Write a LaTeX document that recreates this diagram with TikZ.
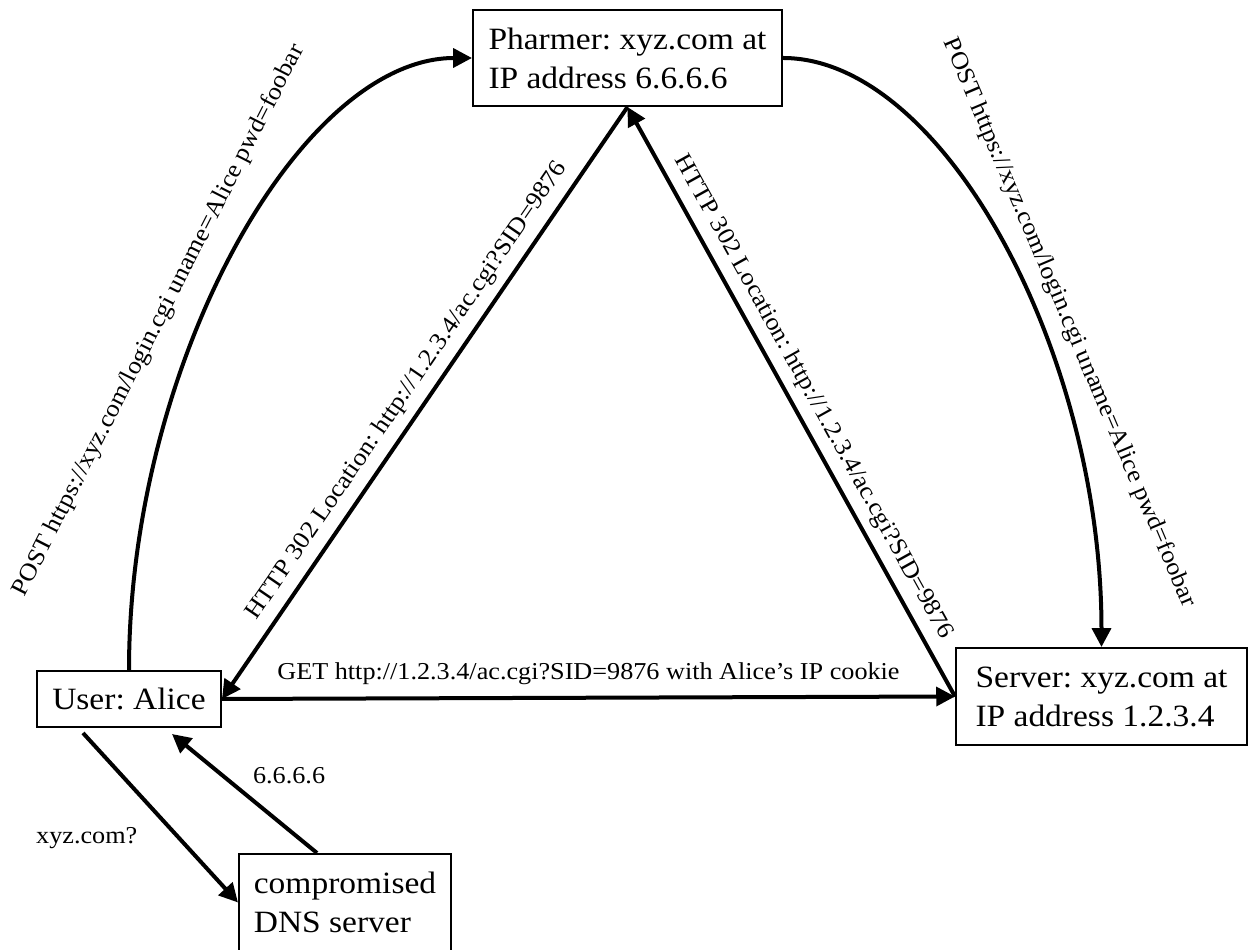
\documentclass[tikz,border=0pt]{standalone}
\usepackage{fontspec}
\setmainfont{Liberation Serif}[FakeStretch=1.08]
\usetikzlibrary{arrows.meta}
\frenchspacing

\begin{document}
\begin{tikzpicture}[x=0.4pt, y=-0.4pt,
	host/.style={draw, line width=0.8pt, align=left, inner sep=0pt,
		font=\fontsize{12.4}{15.6}\selectfont},
	flow/.style={line width=1.6pt, -{Triangle[length=7.5pt, width=7.5pt]}},
	lbl/.style={font=\fontsize{9.7}{11.6}\selectfont}]
	\useasboundingbox (0,0) rectangle (1249,950);
	\node[host, minimum width=123.6pt, minimum height=38.4pt] (pharmer) at (627.5,58) {Pharmer: xyz.com at\\IP address 6.6.6.6};
	\node[host, minimum width=73.6pt, minimum height=22.4pt] (alice) at (129,699) {User: Alice};
	\node[host, minimum width=116.4pt, minimum height=38.8pt] (server) at (1101.5,696.5) {Server: xyz.com at\\IP address 1.2.3.4};
	\node[host, minimum width=84.8pt, minimum height=38.8pt] (dns) at (345,902.5) {compromised\\DNS server};
	% login goes to the pharmer, then on to the real server
	\draw[flow] (alice.north) .. controls +(0,-306) and +(-172,0) .. (pharmer.west)
		node[lbl, pos=0.4, xshift=-16.4pt, yshift=0.8pt, rotate=63] {POST https://xyz.com/login.cgi uname=Alice pwd=foobar};
	\draw[flow] (pharmer.east) .. controls +(160,0) and +(0,-295) .. (server.north)
		node[lbl, pos=0.62, xshift=11pt, yshift=1.8pt, rotate=-67] {POST https://xyz.com/login.cgi uname=Alice pwd=foobar};
	% redirects
	\draw[flow] (pharmer.south) -- (alice.east)
		node[lbl, pos=0.5, sloped, above] {HTTP 302 Location: http://1.2.3.4/ac.cgi?SID=9876};
	\draw[flow] (server.west) -- (pharmer.south)
		node[lbl, pos=0.49, sloped, above] {HTTP 302 Location: http://1.2.3.4/ac.cgi?SID=9876};
	\draw[flow] (alice.east) -- (server.west)
		node[lbl, midway, above, yshift=1pt] {GET http://1.2.3.4/ac.cgi?SID=9876 with Alice’s IP cookie};
	% DNS lookup
	\draw[flow] ([xshift=-18.4pt, yshift=-2pt]alice.south) -- (dns.west)
		node[lbl, pos=0.62, left, xshift=-12.6pt] {xyz.com?};
	\draw[flow] ([xshift=-11.2pt]dns.north) -- ([xshift=17.2pt, yshift=-2.4pt]alice.south)
		node[lbl, pos=0.65, right, xshift=8pt] {6.6.6.6};
\end{tikzpicture}
\end{document}
